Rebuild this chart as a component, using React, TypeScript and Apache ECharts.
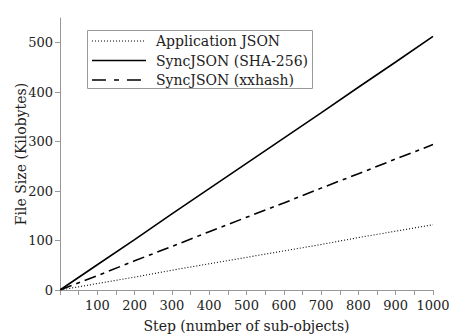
import React, { useEffect, useRef } from "react";
import * as echarts from "echarts";

const steps = [1, 100, 200, 300, 400, 500, 600, 700, 800, 900, 1000];
const appJson = [0.1, 13, 26, 40, 53, 66, 79, 92, 106, 119, 132];
const syncSha = [0.5, 51, 102, 154, 205, 256, 307, 358, 410, 461, 513];
const syncXx = [0.3, 29, 59, 88, 118, 147, 176, 206, 235, 265, 294];
const seriesNames = ["Application JSON", "SyncJSON (SHA-256)", "SyncJSON (xxhash)"];

const FONT = "DejaVu Serif";
const dashes: (number[] | null)[] = [[1, 2], null, [12, 5, 4, 5]];
const legendDashes: (number[] | null)[] = [[1, 2], null, [14, 8, 5, 8]];
const widths = [1.1, 1.6, 1.6];

export default function App() {
  const ref = useRef<HTMLDivElement>(null);
  useEffect(() => {
    const chart = echarts.init(ref.current!, null, { renderer: "svg" });
    const mk = (vals: number[]) => steps.map((s, i) => [s, vals[i]]);
    const axisCommon = {
      axisLine: { show: true, lineStyle: { color: "#999", width: 1 } },
      axisTick: { show: true, inside: false, length: 5, lineStyle: { color: "#999" } },
      splitLine: { show: false },
      axisLabel: { color: "#222", fontFamily: FONT, fontSize: 13 },
      nameTextStyle: { color: "#222", fontFamily: FONT, fontSize: 14 },
    };
    const legendItems: any[] = [
      {
        type: "rect",
        shape: { x: 87.5, y: 30.5, width: 225, height: 58 },
        style: { fill: "#fff", stroke: "#999", lineWidth: 1 },
      },
    ];
    seriesNames.forEach((n, i) => {
      const y = 41 + i * 19.5;
      legendItems.push({
        type: "line",
        shape: { x1: 92, y1: y, x2: 146, y2: y },
        style: { stroke: "#000", lineWidth: widths[i], lineDash: legendDashes[i] || undefined },
      });
      legendItems.push({
        type: "text",
        x: 156,
        y: y,
        style: {
          text: n,
          fill: "#222",
          font: `14px "${FONT}"`,
          verticalAlign: "middle",
          textAlign: "left",
        },
      });
    });
    chart.setOption({
      animation: false,
      backgroundColor: "#fff",
      grid: { left: 60, right: 16, top: 18, bottom: 44, containLabel: false, outerBoundsMode: "none" },
      graphic: { elements: legendItems },
      xAxis: {
        type: "value",
        min: 0,
        max: 1000,
        interval: 100,
        name: "Step (number of sub-objects)",
        nameLocation: "middle",
        nameGap: 29,
        ...axisCommon,
        axisLabel: {
          ...axisCommon.axisLabel,
          margin: 9,
          formatter: (v: number) => (v === 0 ? "" : String(v)),
        },
        minorTick: { show: true, splitNumber: 2, length: 5, lineStyle: { color: "#999" } },
      },
      yAxis: {
        type: "value",
        min: 0,
        max: 550,
        interval: 100,
        name: "File Size (Kilobytes)",
        nameLocation: "middle",
        nameGap: 32,
        nameMoveOverlap: false,
        ...axisCommon,
        axisLabel: { ...axisCommon.axisLabel, margin: 7, showMaxLabel: false },
      },
      series: [appJson, syncSha, syncXx].map((vals, i) => ({
        name: seriesNames[i],
        type: "line",
        data: mk(vals),
        showSymbol: false,
        symbol: "none",
        lineStyle: { color: "#000", width: widths[i], type: dashes[i] || "solid" },
        itemStyle: { color: "#000" },
      })),
    });
    return () => chart.dispose();
  }, []);
  return <div ref={ref} style={{ width: 449, height: 334, position: "absolute", left: 0, top: 0 }} />;
}
